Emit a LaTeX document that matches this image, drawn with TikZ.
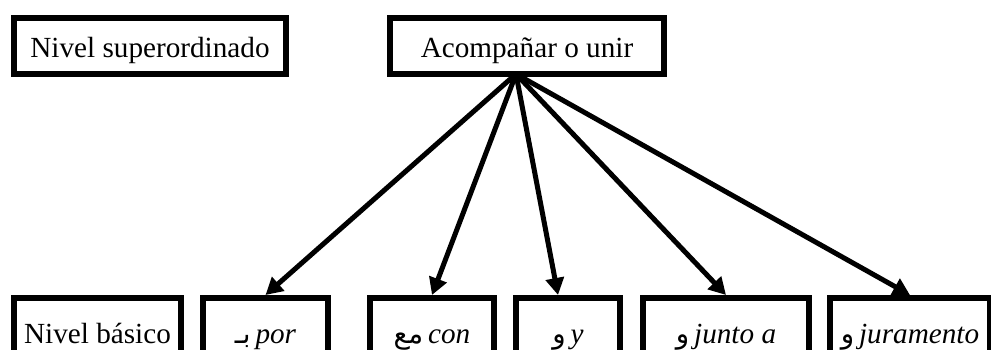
\documentclass[tikz,border=0pt]{standalone}
\usepackage{fontspec}
\setmainfont{Liberation Serif}[ItalicFont={Liberation Serif Italic}]
\newfontfamily\arabicfont[Script=Arabic,Scale=0.95]{DejaVu Sans}
\TeXXeTstate=1
\usetikzlibrary{arrows.meta}
\newcommand\arword[1]{{\arabicfont\beginR #1\endR}}

\begin{document}
\begin{tikzpicture}[x=0.5pt, y=-0.5pt,
                      every node/.style = {shape=rectangle, draw,
                        line width=3pt, align=center, inner sep=0pt,
                        text height=12pt, text depth=1pt,
                        font=\fontsize{14.6}{17}\selectfont},
                      upper/.style = {minimum height=28pt},
                      lower/.style = {minimum height=34pt},
                      link/.style = {line width=2.5pt,
                        -{Triangle[length=8.5pt,width=9pt]}}]
  \useasboundingbox (0,0) rectangle (991,349);
  % upper row
  \node[upper, minimum width=136pt] (super) at (150,46) {Nivel superordinado};
  \node[upper, minimum width=137pt] (acomp) at (527,46) {Acompañar o unir};
  % lower row
  \node[lower, minimum width=83.5pt] (basico) at (97.5,332) {Nivel básico};
  \node[lower, minimum width=62.5pt] (por) at (265.5,332) {\arword{بـ}\,\textit{por}};
  \node[lower, minimum width=62pt] (con) at (432,332) {\arword{مع}\,\textit{con}};
  \node[lower, minimum width=52pt] (y) at (568,332) {\arword{و}\,\textit{y}};
  \node[lower, minimum width=83pt] (junto) at (726,332) {\arword{و}\,\textit{junto a}};
  \node[lower, minimum width=80pt] (jura) at (910,332) {\arword{و}\,\textit{juramento}};
  % arrows
  \coordinate (hub) at ([xshift=-5.5pt, yshift=1.5pt]acomp.south);
  \draw[link] (hub) -- (por.north);
  \draw[link] (hub) -- (con.north);
  \draw[link] (hub) -- ([xshift=-5pt]y.north);
  \draw[link] (hub) -- (junto.north);
  \draw[link] (hub) -- (jura.north);
\end{tikzpicture}
\end{document}
